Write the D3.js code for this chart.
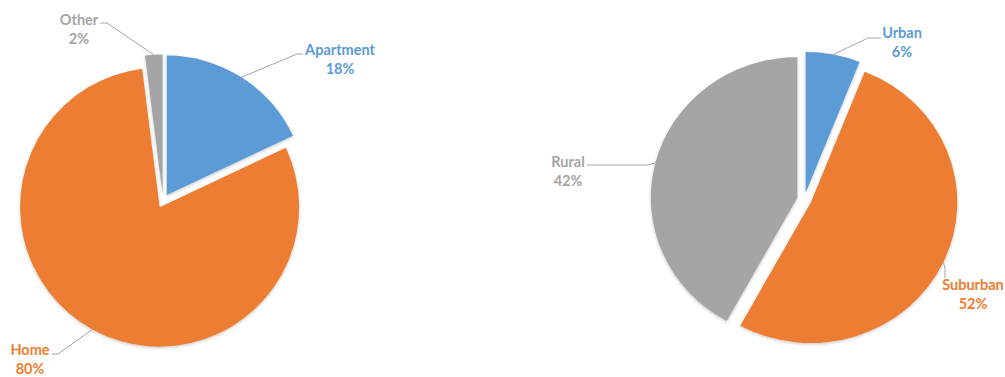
<!DOCTYPE html>
<html>
<head>
<meta charset="utf-8">
<script src="https://cdn.jsdelivr.net/npm/d3@7/dist/d3.min.js"></script>
<style>
  html, body { margin: 0; padding: 0; background: #fff; }
  svg { display: block; }
  text { font-family: Lato, "Open Sans", sans-serif; font-weight: 700; font-size: 14.5px; }
</style>
</head>
<body>
<svg id="chart" width="1005" height="377"></svg>
<script>
// Housing type shares (%)
const housingCategories = ["Apartment", "Home", "Other"];
const housingValues = [18, 80, 2];

// Locale shares (%)
const localeCategories = ["Urban", "Suburban", "Rural"];
const localeValues = [6, 52, 42];

const sliceColors = ["#5B9BD5", "#ED7D31", "#A5A5A5"];

// Layout for each pie: centre, radius, horizontal stretch, explode distance,
// and label anchors (text centre x, first baseline y, leader elbow, leader end).
const pies = [
  {
    categories: housingCategories, values: housingValues,
    cx: 163, cy: 201, r: 139.5, sx: 1, explode: 7,
    labels: [
      { x: 340, y: 55, elbow: [297, 54], end: [303, 54] },
      { x: 30,  y: 355, elbow: [58, 354], end: [52, 354] },
      { x: 79,  y: 25, elbow: [107, 23], end: [100, 23] }
    ]
  },
  {
    categories: localeCategories, values: localeValues,
    cx: 804.3, cy: 199.5, r: 140.6, sx: 1.042, explode: 6.9,
    labels: [
      { x: 902, y: 38, elbow: [868, 38], end: [881, 38] },
      { x: 973, y: 290, elbow: [945, 268], end: [945, 278] },
      { x: 568, y: 167, elbow: [648, 165], end: [587, 165] }
    ]
  }
];

const svg = d3.select("#chart");

const defs = svg.append("defs");
const shadow = defs.append("filter").attr("id", "soft").attr("x", "-10%").attr("y", "-10%")
  .attr("width", "120%").attr("height", "120%");
shadow.append("feDropShadow").attr("dx", 0).attr("dy", 1.2).attr("stdDeviation", 1.6)
  .attr("flood-color", "#000").attr("flood-opacity", 0.22);

const color = d3.scaleOrdinal().range(sliceColors);

pies.forEach(p => {
  color.domain(p.categories);
  const pie = d3.pie().sort(null).value(d => d.value);
  const arcs = pie(p.categories.map((c, i) => ({ category: c, value: p.values[i] })));
  const arc = d3.arc().innerRadius(0).outerRadius(p.r);

  const total = d3.sum(p.values);
  const g = svg.append("g")
    .attr("transform", `translate(${p.cx},${p.cy}) scale(${p.sx},1)`);

  // exploded slices
  g.selectAll("path.slice")
    .data(arcs)
    .join("path")
    .attr("class", "slice")
    .attr("d", arc)
    .attr("fill", d => color(d.data.category))
    .attr("filter", "url(#soft)")
    .attr("transform", d => {
      const a = (d.startAngle + d.endAngle) / 2;
      return `translate(${p.explode * Math.sin(a)},${-p.explode * Math.cos(a)})`;
    });

  // leader lines from the middle of each slice's rim to its label
  arcs.forEach((d, i) => {
    const a = (d.startAngle + d.endAngle) / 2;
    const px = p.cx + p.sx * ((p.explode + p.r) * Math.sin(a));
    const py = p.cy - (p.explode + p.r) * Math.cos(a);
    const L = p.labels[i];
    svg.append("path")
      .attr("d", d3.line()([[px, py], L.elbow, L.end]))
      .attr("fill", "none")
      .attr("stroke", "#A6A6A6")
      .attr("stroke-width", 1);

    const t = svg.append("text")
      .attr("text-anchor", "middle")
      .attr("fill", color(d.data.category));
    t.append("tspan").attr("x", L.x).attr("y", L.y).text(d.data.category);
    t.append("tspan").attr("x", L.x).attr("y", L.y + 18.5)
      .text(d3.format(".0%")(d.data.value / total));
  });
});
</script>
</body>
</html>
